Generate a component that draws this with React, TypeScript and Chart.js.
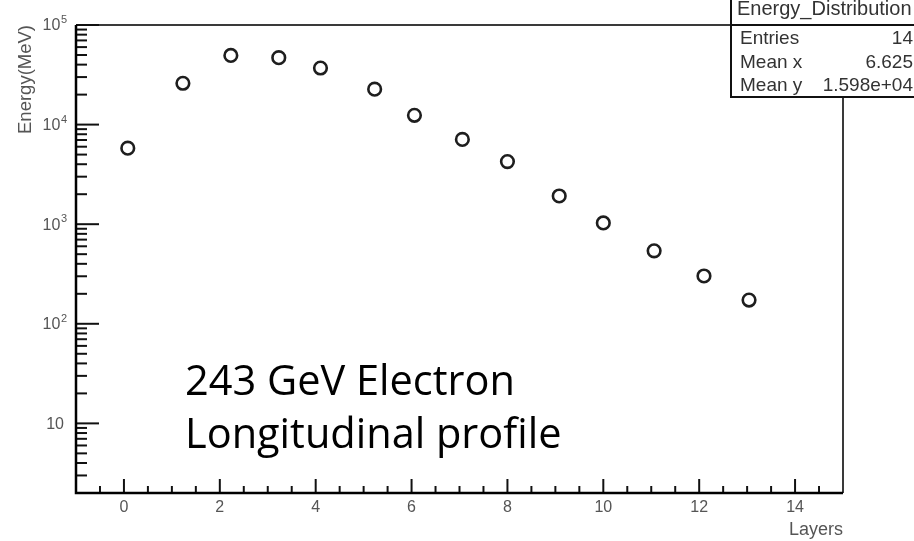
import { useEffect, useRef } from "react";
import { Chart, registerables } from "chart.js";

Chart.register(...registerables);

// Longitudinal shower profile: energy deposited per layer
const layers = [0.08, 1.23, 2.23, 3.23, 4.1, 5.23, 6.06, 7.06, 8.0, 9.08, 10.0, 11.06, 12.1, 13.04];
const energyMeV = [5800, 26000, 49500, 47000, 37000, 22700, 12400, 7100, 4250, 1920, 1030, 540, 302, 173];

// Axis ticks
const xTickValues = [0, 2, 4, 6, 8, 10, 12, 14];
const yDecades = [10, 100, 1000, 10000, 100000];

// Statistics box
const statsTitle = "Energy_Distribution";
const statLabels = ["Entries", "Mean x", "Mean y"];
const statValues = ["14", "6.625", "1.598e+04"];

// Caption
const captionLines = ["243 GeV Electron", "Longitudinal profile"];

const AXIS_FONT = "'Liberation Sans', Arial, Helvetica, sans-serif";
const CAPTION_FONT = "'Open Sans', 'Noto Sans', sans-serif";
const LABEL_COLOR = "#555";

// Frame, inward-pointing ticks and decade labels drawn from the chart's own scales
const frameTicksPlugin = {
  id: "frameTicks",
  beforeDatasetsDraw(chart: any) {
    const { ctx, chartArea } = chart;
    const { left, right, top, bottom } = chartArea;
    const xs = chart.scales.x;
    const ys = chart.scales.y;
    ctx.save();
    ctx.lineCap = "butt";

    // top & right frame
    ctx.strokeStyle = "#3a3a3a";
    ctx.lineWidth = 2;
    ctx.beginPath();
    ctx.moveTo(left, top);
    ctx.lineTo(right, top);
    ctx.lineTo(right, bottom);
    ctx.stroke();

    // x ticks
    ctx.strokeStyle = "#111";
    ctx.lineWidth = 2;
    for (let v = Math.ceil(xs.min * 2) / 2; v <= xs.max + 1e-9; v += 0.5) {
      if (v <= xs.min + 1e-9 || v >= xs.max - 1e-9) continue;
      const px = xs.getPixelForValue(v);
      const major = Math.abs(v / 2 - Math.round(v / 2)) < 1e-9;
      const len = major ? 14 : 7;
      ctx.beginPath();
      ctx.moveTo(px, bottom);
      ctx.lineTo(px, bottom - len);
      ctx.stroke();
    }

    // y ticks (log)
    const lo = Math.floor(Math.log10(ys.min));
    const hi = Math.ceil(Math.log10(ys.max));
    for (let d = lo; d <= hi; d++) {
      for (let m = 1; m <= 9; m++) {
        const v = m * Math.pow(10, d);
        if (v < ys.min - 1e-9 || v > ys.max * (1 + 1e-9)) continue;
        const py = ys.getPixelForValue(v);
        const len = m === 1 ? 23 : 11;
        ctx.beginPath();
        ctx.moveTo(left, py);
        ctx.lineTo(left + len, py);
        ctx.stroke();
      }
    }

    // left & bottom axis lines
    ctx.strokeStyle = "#000";
    ctx.lineWidth = 2.5;
    ctx.beginPath();
    ctx.moveTo(left, top);
    ctx.lineTo(left, bottom);
    ctx.lineTo(right, bottom);
    ctx.stroke();

    // decade labels 10^n with raised exponent
    ctx.fillStyle = LABEL_COLOR;
    ctx.textAlign = "right";
    ctx.textBaseline = "middle";
    const xr = left - 9;
    ys.ticks.forEach((t: any) => {
      const py = ys.getPixelForValue(t.value);
      const e = Math.round(Math.log10(t.value));
      if (e === 1) {
        ctx.font = `16px ${AXIS_FONT}`;
        ctx.fillText("10", xr - 3, py + 1);
        return;
      }
      ctx.font = `11px ${AXIS_FONT}`;
      const exp = String(e);
      const ew = ctx.measureText(exp).width;
      ctx.fillText(exp, xr, py - 5);
      ctx.font = `16px ${AXIS_FONT}`;
      ctx.fillText("10", xr - ew - 0.5, py + 1);
    });
    ctx.restore();
  },
  afterDraw(chart: any) {
    const { ctx } = chart;
    ctx.save();

    // statistics box
    const bx = 731, by = -4, bw = 220, bh = 101;
    ctx.fillStyle = "#fff";
    ctx.fillRect(bx, by, bw, bh);
    ctx.strokeStyle = "#111";
    ctx.lineWidth = 2;
    ctx.strokeRect(bx, by, bw, bh);
    ctx.beginPath();
    ctx.moveTo(bx, 25);
    ctx.lineTo(bx + bw, 25);
    ctx.stroke();

    ctx.fillStyle = "#333";
    ctx.textBaseline = "alphabetic";
    ctx.font = `20px ${AXIS_FONT}`;
    ctx.textAlign = "left";
    ctx.fillText(statsTitle, 737, 15);

    ctx.font = `19px ${AXIS_FONT}`;
    statLabels.forEach((lab, i) => {
      const y = 44 + i * 23.5;
      ctx.textAlign = "left";
      ctx.fillText(lab, 740, y);
      ctx.textAlign = "right";
      ctx.fillText(statValues[i], 913, y);
    });

    // caption
    ctx.fillStyle = "#000";
    ctx.textAlign = "left";
    ctx.font = `41.5px ${CAPTION_FONT}`;
    captionLines.forEach((line, i) => {
      ctx.fillText(line, 185, 395 + i * 53);
    });
    ctx.restore();
  },
};

export default function App() {
  const canvasRef = useRef<HTMLCanvasElement | null>(null);

  useEffect(() => {
    const canvas = canvasRef.current;
    if (!canvas) return;
    const chart = new Chart(canvas, {
      type: "scatter",
      data: {
        datasets: [
          {
            label: "Energy",
            data: layers.map((x, i) => ({ x, y: energyMeV[i] })),
            pointStyle: "circle",
            pointRadius: 6.3,
            pointBorderWidth: 2.6,
            borderColor: "#1e1e1e",
            backgroundColor: "rgba(0,0,0,0)",
            showLine: false,
          },
        ],
      },
      options: {
        animation: false,
        responsive: false,
        maintainAspectRatio: false,
        devicePixelRatio: 1,
        layout: { padding: { top: 25, right: 71, left: 0, bottom: 0 } },
        plugins: {
          legend: { display: false },
          tooltip: { enabled: false },
        },
        scales: {
          x: {
            type: "linear",
            position: "bottom",
            min: -1,
            max: 15,
            grid: { display: false, drawTicks: false },
            border: { display: false },
            afterBuildTicks: (axis: any) => {
              axis.ticks = xTickValues.map((value) => ({ value }));
            },
            ticks: {
              autoSkip: false,
              maxRotation: 0,
              padding: 5,
              color: LABEL_COLOR,
              font: { family: AXIS_FONT, size: 16 },
              callback: (v: any) => String(v),
            },
            title: {
              display: true,
              text: "Layers",
              align: "end",
              color: LABEL_COLOR,
              font: { family: AXIS_FONT, size: 18 },
              padding: { top: 1, bottom: 0 },
            },
            afterFit: (s: any) => {
              s.height = 48;
            },
          },
          y: {
            type: "logarithmic",
            min: 2,
            max: 100000,
            grid: { display: false, drawTicks: false },
            border: { display: false },
            afterBuildTicks: (axis: any) => {
              axis.ticks = yDecades.map((value) => ({ value }));
            },
            ticks: { display: false },
            title: {
              display: true,
              text: "Energy(MeV)",
              align: "end",
              color: LABEL_COLOR,
              font: { family: AXIS_FONT, size: 18.5 },
              padding: { top: 15, bottom: 0 },
            },
            afterFit: (s: any) => {
              s.width = 76;
            },
          },
        },
      } as any,
      plugins: [frameTicksPlugin],
    });
    return () => chart.destroy();
  }, []);

  return (
    <div style={{ position: "absolute", left: 0, top: 0, width: 914, height: 541, background: "#fff" }}>
      <canvas ref={canvasRef} width={914} height={541} />
    </div>
  );
}
